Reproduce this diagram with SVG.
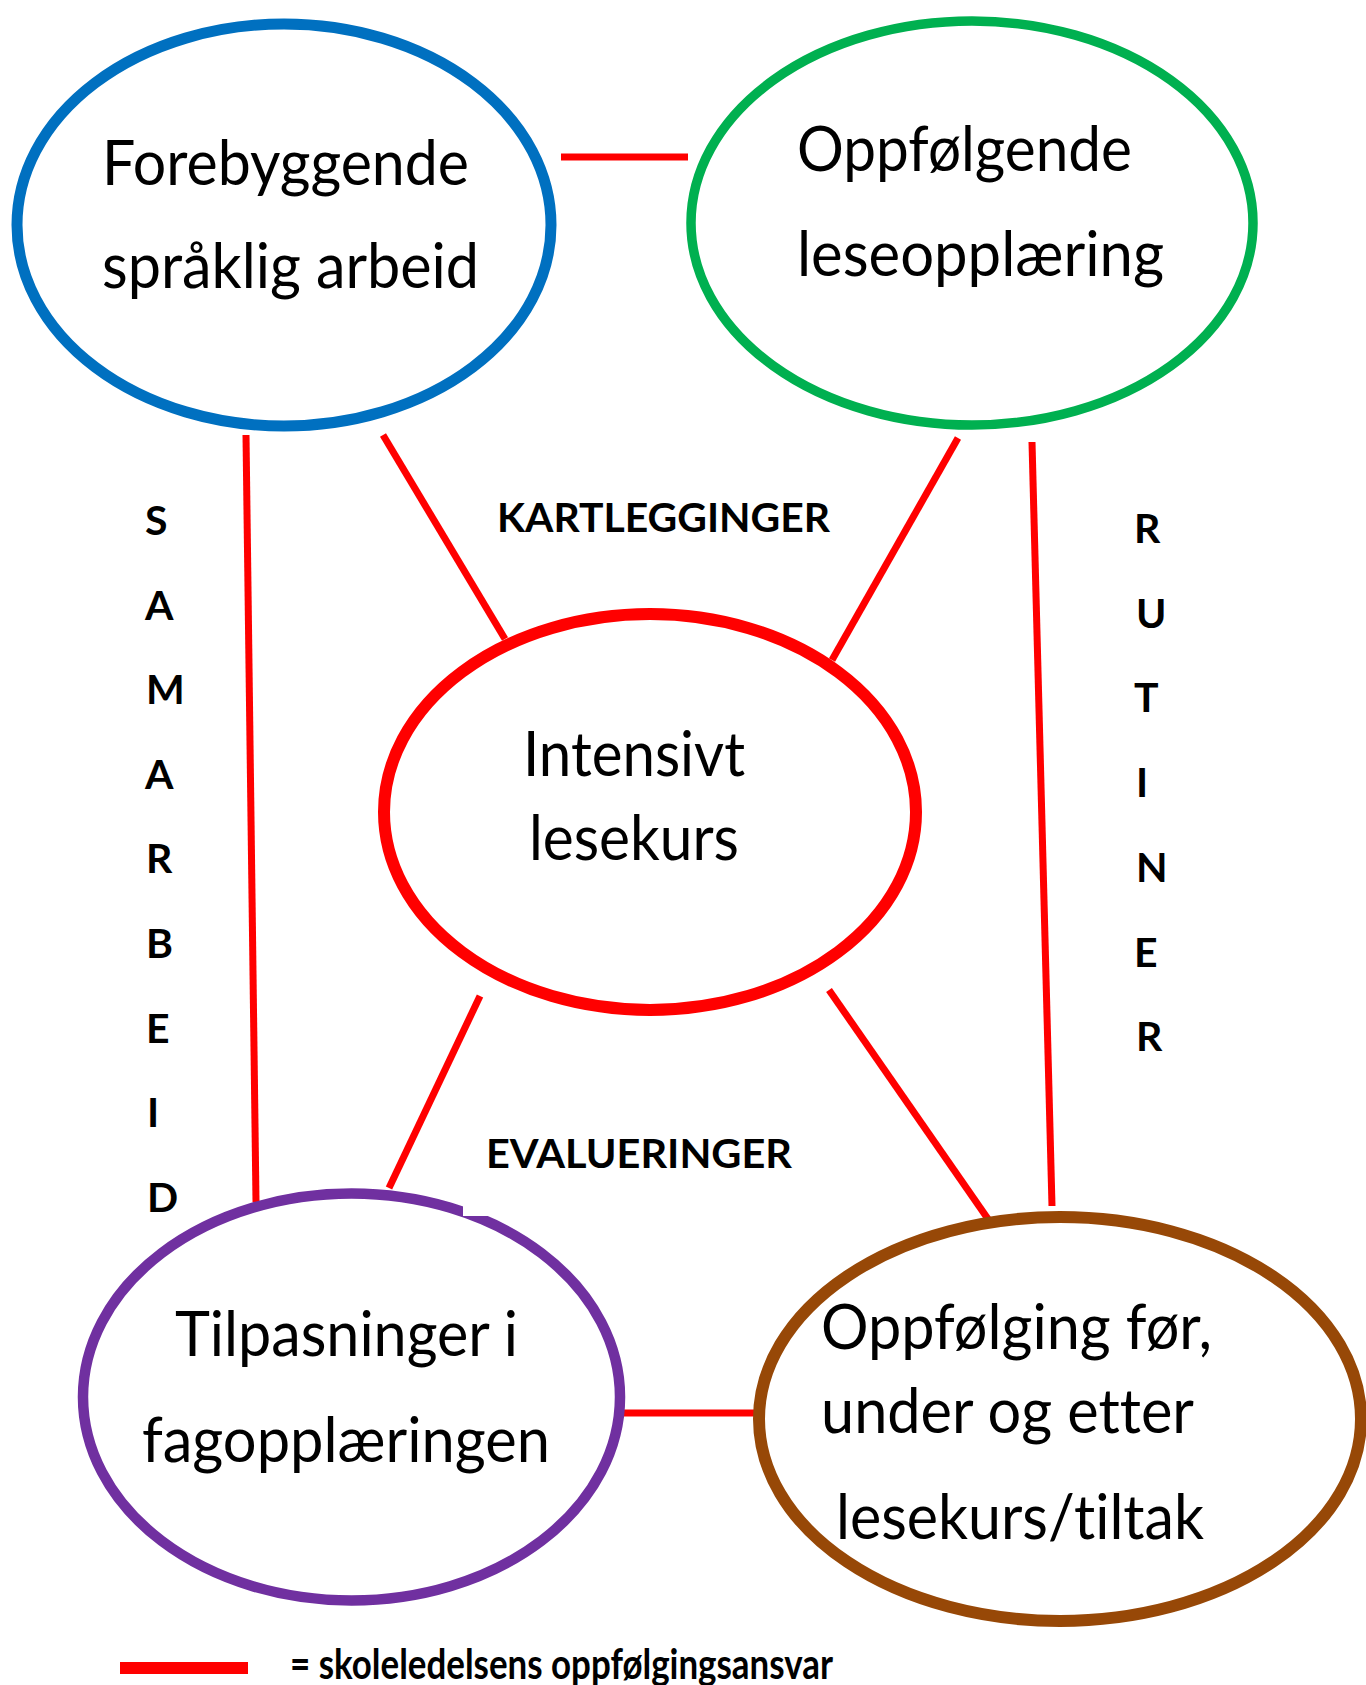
<svg xmlns="http://www.w3.org/2000/svg" width="1366" height="1685" viewBox="0 0 1366 1685">
<style>
.node{fill:#fff}
text{font-variant-ligatures:none;font-feature-settings:"liga" 0,"dlig" 0}
.t{font-family:Lato,"Open Sans",sans-serif;font-size:62px;fill:#000}
.b{font-family:Lato,"Open Sans",sans-serif;font-size:41px;font-weight:bold;fill:#000}
.c{stroke:#ff0000;fill:none;stroke-width:7}
</style>
<rect width="1366" height="1685" fill="#fff"/>
<g id="connectors">
<line class="c" x1="561" y1="157" x2="688" y2="157" stroke-width="7.5"/>
<line class="c" x1="246" y1="435" x2="256" y2="1202"/>
<line class="c" x1="383" y1="435" x2="505" y2="639"/>
<line class="c" x1="958" y1="438" x2="832" y2="660"/>
<line class="c" x1="1032" y1="442" x2="1052" y2="1206"/>
<line class="c" x1="480" y1="996" x2="389" y2="1188"/>
<line class="c" x1="829" y1="990" x2="988" y2="1219"/>
<line class="c" x1="623" y1="1413" x2="757" y2="1413" stroke-width="8.5"/>
</g>
<g id="n1">
<ellipse class="node" cx="284" cy="225" rx="267" ry="201" stroke="#0070c0" stroke-width="11"/>
<text class="t" x="102" y="185" textLength="367" lengthAdjust="spacingAndGlyphs">Forebyggende</text>
<text class="t" x="102" y="288" textLength="377" lengthAdjust="spacingAndGlyphs">språklig arbeid</text>
</g>
<g id="n2">
<ellipse class="node" cx="972" cy="223" rx="281" ry="202" stroke="#00b050" stroke-width="9.5"/>
<text class="t" x="797" y="171" textLength="335" lengthAdjust="spacingAndGlyphs">Oppfølgende</text>
<text class="t" x="797" y="276" textLength="367" lengthAdjust="spacingAndGlyphs">leseopplæring</text>
</g>
<g id="n3">
<ellipse class="node" cx="650" cy="812" rx="266" ry="198" stroke="#ff0000" stroke-width="12"/>
<text class="t" x="523" y="776" textLength="222" lengthAdjust="spacingAndGlyphs">Intensivt</text>
<text class="t" x="529" y="860" textLength="210" lengthAdjust="spacingAndGlyphs">lesekurs</text>
</g>
<g id="n4">
<ellipse class="node" cx="351.5" cy="1397" rx="268.5" ry="203.5" stroke="#7030a0" stroke-width="10.5"/>
<rect x="463" y="1195" width="25" height="21" fill="#fff"/>
<text class="t" x="175" y="1356" textLength="343" lengthAdjust="spacingAndGlyphs">Tilpasninger i</text>
<text class="t" x="142" y="1462" textLength="408" lengthAdjust="spacingAndGlyphs">fagopplæringen</text>
</g>
<g id="n5">
<ellipse class="node" cx="1060" cy="1419" rx="301" ry="202" stroke="#974807" stroke-width="12"/>
<text class="t" x="821" y="1349" textLength="391" lengthAdjust="spacingAndGlyphs">Oppfølging før,</text>
<text class="t" x="821" y="1433" textLength="373" lengthAdjust="spacingAndGlyphs">under og etter</text>
<text class="t" x="836" y="1539" textLength="368" lengthAdjust="spacingAndGlyphs">lesekurs/tiltak</text>
</g>
<g id="labels">
<text class="b" x="497" y="532" textLength="333" lengthAdjust="spacingAndGlyphs">KARTLEGGINGER</text>
<text class="b" x="486" y="1168" textLength="306" lengthAdjust="spacingAndGlyphs">EVALUERINGER</text>
<text class="b" x="145" y="535">S</text>
<text class="b" x="145" y="620">A</text>
<text class="b" x="146" y="704">M</text>
<text class="b" x="145" y="789">A</text>
<text class="b" x="146" y="873">R</text>
<text class="b" x="146" y="958">B</text>
<text class="b" x="146" y="1043">E</text>
<text class="b" x="147" y="1127">I</text>
<text class="b" x="147" y="1212">D</text>
<text class="b" x="1134" y="543">R</text>
<text class="b" x="1136" y="628">U</text>
<text class="b" x="1134" y="712">T</text>
<text class="b" x="1136" y="797">I</text>
<text class="b" x="1136" y="882">N</text>
<text class="b" x="1134" y="967">E</text>
<text class="b" x="1136" y="1051">R</text>
</g>
<g id="legend">
<line x1="120" y1="1668" x2="248" y2="1668" stroke="#ff0000" stroke-width="12"/>
<text class="b" x="290" y="1679" textLength="543" lengthAdjust="spacingAndGlyphs" style="font-size:42px">= skoleledelsens oppfølgingsansvar</text>
</g>
</svg>
